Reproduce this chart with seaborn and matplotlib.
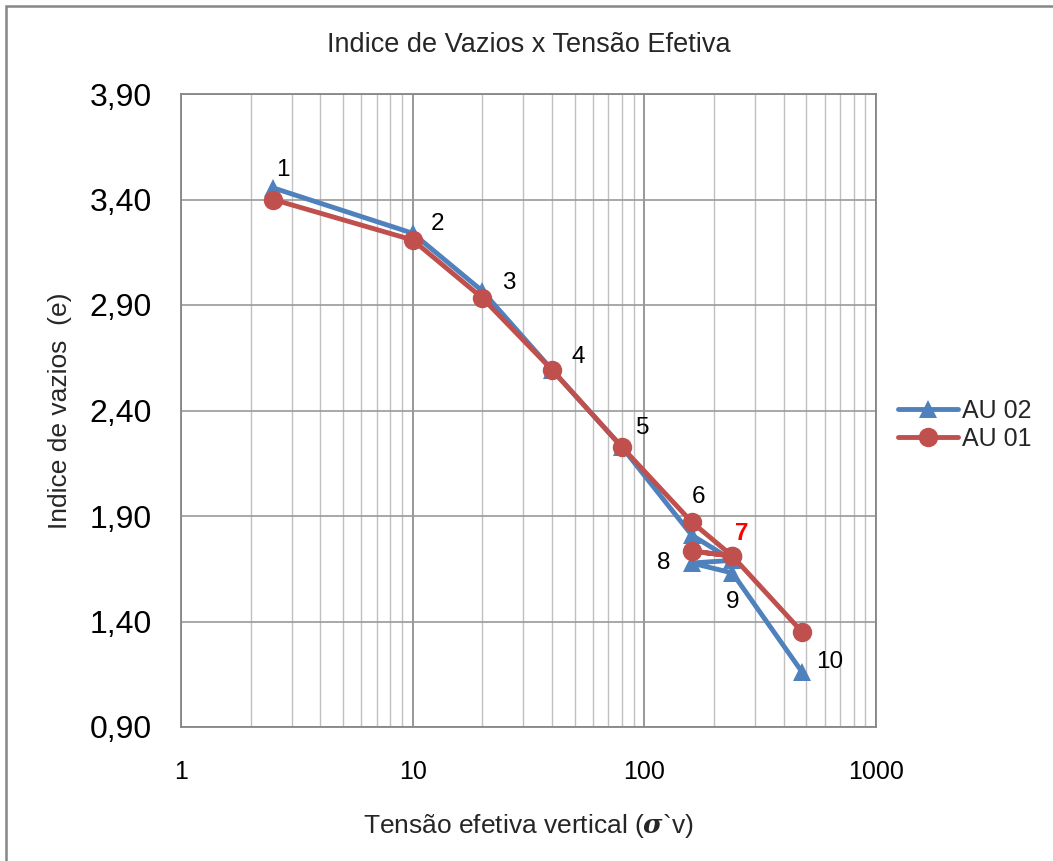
import matplotlib
matplotlib.use("Agg")
import matplotlib.pyplot as plt
import matplotlib.ticker as mticker
from matplotlib.patches import Rectangle
import seaborn as sns
import pandas as pd

# ---- data ----
stress = [2.5, 10, 20, 40, 80, 160, 240, 160, 240, 480]
au02 = [3.455, 3.24, 2.966, 2.592, 2.227, 1.81, 1.69, 1.677, 1.63, 1.16]
au01 = [3.40, 3.208, 2.933, 2.592, 2.227, 1.872, 1.71, 1.734, 1.71, 1.35]
point_labels = ["1", "2", "3", "4", "5", "6", "7", "8", "9", "10"]
y_ticks = [0.90, 1.40, 1.90, 2.40, 2.90, 3.40, 3.90]
x_ticks = [1, 10, 100, 1000]

BLUE = "#4F81BD"
RED = "#C0504D"

sns.set_theme(style="white")
plt.rcParams["font.family"] = ["Liberation Sans", "DejaVu Sans"]
plt.rcParams["mathtext.fontset"] = "dejavuserif"

fig = plt.figure(figsize=(10.53, 8.61), dpi=100)
ax = fig.add_axes([181 / 1053, 1 - 727 / 861, (876 - 181) / 1053, (727 - 94) / 861])

df02 = pd.DataFrame({"x": stress, "y": au02})
df01 = pd.DataFrame({"x": stress, "y": au01})

sns.lineplot(data=df02, x="x", y="y", sort=False, estimator=None, ax=ax,
             color=BLUE, lw=3.5, marker="^", markersize=13, markeredgewidth=0,
             label="AU 02", zorder=3)
sns.lineplot(data=df01, x="x", y="y", sort=False, estimator=None, ax=ax,
             color=RED, lw=3.5, marker="o", markersize=14, markeredgewidth=0,
             label="AU 01", zorder=4)

ax.set_xscale("log")
ax.set_xlim(1, 1000)
ax.set_ylim(0.90, 3.90)
ax.set_yticks(y_ticks)
ax.yaxis.set_major_formatter(mticker.FuncFormatter(lambda v, p: f"{v:.2f}".replace(".", ",")))
ax.set_xticks(x_ticks)
ax.xaxis.set_major_formatter(mticker.FuncFormatter(lambda v, p: f"{int(round(v))}"))
ax.xaxis.set_minor_locator(mticker.LogLocator(base=10, subs=range(2, 10)))
ax.xaxis.set_minor_formatter(mticker.NullFormatter())

ax.grid(which="major", axis="x", color="#868686", lw=1.2)
ax.grid(which="minor", axis="x", color="#c0c0c0", lw=1.0)
ax.grid(which="major", axis="y", color="#9a9a9a", lw=1.2)
ax.set_axisbelow(True)
for s in ax.spines.values():
    s.set_color("#868686")
    s.set_linewidth(1.3)

ax.tick_params(axis="y", which="both", length=0, pad=21, labelsize=23, colors="black")
ax.tick_params(axis="x", which="both", length=0, pad=24, labelsize=18, colors="black")

ax.set_xlabel(r"Tensão efetiva vertical ($\boldsymbol{\sigma}$`v)", fontsize=19, labelpad=20)
ax.set_ylabel("Indice de vazios  (e)", fontsize=19)
ax.yaxis.set_label_coords((72 - 181) / 695, 0.5)

fig.text((181 + 876) / 2 / 1053, 1 - 45 / 861, "Indice de Vazios x Tensão Efetiva",
         ha="center", va="center", fontsize=19.5)

# data point labels (anchor series, offsets in pixels)
label_specs = [
    (au02, 10, 18, "black", "normal"),
    (au02, 25, 9, "black", "normal"),
    (au02, 26, 8, "black", "normal"),
    (au02, 26, 13, "black", "normal"),
    (au02, 21, 19, "black", "normal"),
    (au01, 7, 25, "black", "normal"),
    (au01, 9, 23, "red", "bold"),
    (au02, -28, 0, "black", "normal"),
    (au02, 0, -29, "black", "normal"),
    (au02, 28, 10, "black", "normal"),
]
for i, (series, dx, dy, col, wt) in enumerate(label_specs):
    ax.annotate(point_labels[i], (stress[i], series[i]), xytext=(dx, dy),
                textcoords="offset pixels", ha="center", va="center",
                fontsize=17.5, color=col, fontweight=wt, zorder=6)

ax.get_legend().remove()
h, l = ax.get_legend_handles_labels()
fig.legend(h, l, loc="center left", bbox_to_anchor=(898 / 1053, 1 - 425 / 861),
           frameon=False, fontsize=18, handlelength=2.4, handletextpad=0.15,
           labelspacing=0.15, borderpad=0, borderaxespad=0)

fig.patches.append(Rectangle((6 / 1053, -0.05), 1.2, 1 - 6 / 861 + 0.05,
                             transform=fig.transFigure, fill=False,
                             edgecolor="#868686", lw=1.8))

fig.savefig("out.png", dpi=100)
